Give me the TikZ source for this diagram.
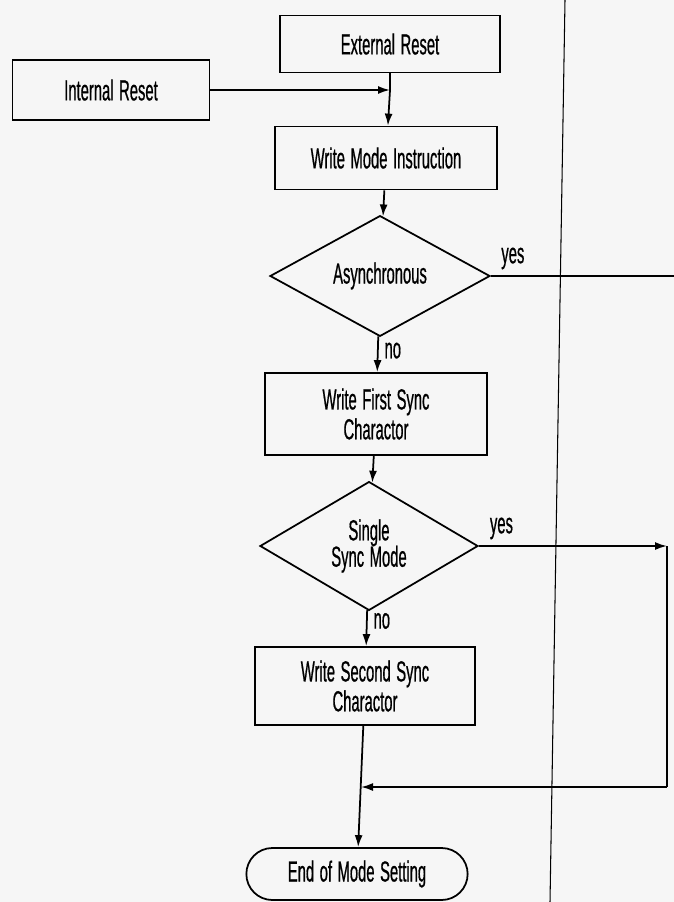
\documentclass[tikz,border=0pt]{standalone}
\usepackage{fontspec}
\newfontfamily\chartfont[FakeStretch=0.51, WordSpace=1.35, FakeBold=0.6]{Liberation Sans}
\usepackage{tikz}
\usetikzlibrary{shapes.geometric, shapes.misc, arrows.meta}

\begin{document}
\begin{tikzpicture}[
    font=\chartfont\fontsize{16.5}{18}\selectfont,
    box/.style={rectangle, draw, line width=1pt, align=center, minimum width=4.4cm, minimum height=1.2cm},
    decision/.style={diamond, draw, line width=1pt, inner sep=0pt, align=center, minimum width=4.4cm, minimum height=1.62cm},
    terminal/.style={rounded rectangle, draw, line width=1pt, minimum width=4.66cm, minimum height=1.04cm},
    arrow/.style={-{Latex[length=2.4mm,width=1.6mm]}, line width=1pt},
    line/.style={line width=1pt}
  ]

    % Frame and background
    \fill[gray!7] (0,0) rectangle (13.48,-18.04);
    \useasboundingbox (0,0) rectangle (13.48,-18.04);

    % Page separator
    \coordinate (septop) at (11.3,0);
    \coordinate (sepbot) at (11.0,-18.04);
    \draw[line width=0.6pt] (septop) -- (sepbot);

    % Reset sources
    \node[box, minimum height=1.14cm] (extreset) at (7.8,-0.88) {External Reset};
    \node[box, minimum width=3.94cm] (intreset) at (2.22,-1.8) {Internal Reset};

    % Mode instruction and async check
    \node[box, minimum width=4.44cm, minimum height=1.26cm] (modeinstr) at (7.72,-3.16) {Write Mode Instruction};
    \node[decision] (async) at (7.6,-5.52) {Asynchronous};

    % Sync characters
    \node[box, minimum width=4.44cm, minimum height=1.64cm] (firstsync) at (7.52,-8.28) {Write First Sync\\[-1pt]Charactor};
    \node[decision, minimum width=4.36cm] (singlesync) at (7.38,-10.92) {Single\\[-3pt]Sync Mode};
    \node[box, minimum height=1.56cm] (secondsync) at (7.3,-13.72) {Write Second Sync\\[-1pt]Charactor};

    % End
    \node[terminal] (modeend) at (7.14,-17.48) {End of Mode Setting};

    % Helper points for the yes branches
    \coordinate (join) at (intreset.east -| extreset.south);
    \coordinate (asyncout) at (13.48,-5.52);
    \coordinate (yesright) at (13.34,-10.92);
    \coordinate (loopcorner) at (13.34,-15.74);
    \coordinate (merge) at (7.22,-15.74);

    % Arrows - main flow
    \draw[line] (extreset) -- (join);
    \draw[arrow] (intreset) -- (join);
    \draw[arrow] (join) -- (modeinstr);
    \draw[arrow] (modeinstr) -- (async);
    \draw[arrow] (async) -- node[pos=0.4, right] {no} (firstsync);
    \draw[arrow] (firstsync) -- (singlesync);
    \draw[arrow] (singlesync) -- node[pos=0.3, right] {no} (secondsync);
    \draw[arrow] (secondsync) -- (modeend);

    % Arrows - yes branches
    \draw[line] (async.east) -- node[pos=0.12, above] {yes} (asyncout);
    \draw[arrow] (singlesync.east) -- node[pos=0.12, above] {yes} (yesright);
    \draw[line] (yesright) -- (loopcorner);
    \draw[arrow] (loopcorner) -- (merge);

  \end{tikzpicture}
\end{document}
